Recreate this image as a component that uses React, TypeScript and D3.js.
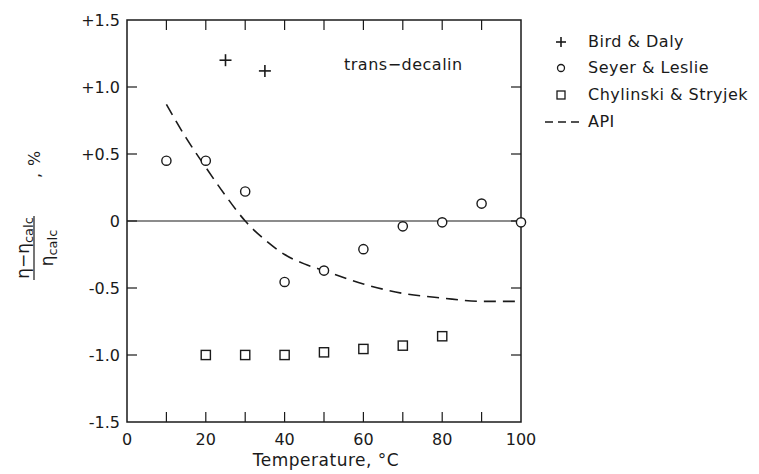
import React from "react";
import * as d3 from "d3";

const birdDalyT = [25, 35];
const birdDalyV = [1.2, 1.12];
const seyerT = [10, 20, 30, 40, 50, 60, 70, 80, 90, 100];
const seyerV = [0.45, 0.45, 0.22, -0.455, -0.37, -0.21, -0.04, -0.01, 0.13, -0.01];
const chylT = [20, 30, 40, 50, 60, 70, 80];
const chylV = [-1.0, -1.0, -1.0, -0.98, -0.955, -0.93, -0.86];
const apiT = [10, 15, 20, 25, 30, 35, 40, 45, 50, 60, 70, 80, 90, 100];
const apiV = [0.87, 0.62, 0.4, 0.19, 0.0, -0.14, -0.25, -0.32, -0.37, -0.47, -0.54, -0.575, -0.6, -0.6];
const xTicks = [0, 20, 40, 60, 80, 100];
const xMinorTicks = [10, 20, 30, 40, 50, 60, 70, 80, 90];
const yTicks = [1.5, 1.0, 0.5, 0, -0.5, -1.0, -1.5];
const yTickLabels = ["+1.5", "+1.0", "+0.5", "0", "-0.5", "-1.0", "-1.5"];
const legendLabels = ["Bird & Daly", "Seyer & Leslie", "Chylinski & Stryjek", "API"];

const FONT = "'DejaVu Sans', sans-serif";
const INK = "#1a1a1a";

export default function App() {
  const x = d3.scaleLinear().domain([0, 100]).range([127, 521]);
  const y = d3.scaleLinear().domain([-1.5, 1.5]).range([422, 20]);
  const line = d3
    .line<number>()
    .x((_, i) => x(apiT[i]))
    .y((d) => y(d))
    .curve(d3.curveMonotoneX);

  const plus = (cx: number, cy: number, s: number, k: string) => (
    <g key={k} stroke={INK} strokeWidth={1.6}>
      <line x1={cx - s} x2={cx + s} y1={cy} y2={cy} />
      <line x1={cx} x2={cx} y1={cy - s} y2={cy + s} />
    </g>
  );

  const legX = 561;
  const legRows = [42, 68, 95, 122];

  return (
    <svg
      width={759}
      height={474}
      style={{ position: "absolute", left: 0, top: 0, background: "#fff" }}
      fontFamily={FONT}
    >
      <rect x={0} y={0} width={759} height={474} fill="#fff" />
      {/* frame */}
      <rect x={x(0)} y={y(1.5)} width={x(100) - x(0)} height={y(-1.5) - y(1.5)} fill="none" stroke={INK} strokeWidth={1.5} />
      {/* zero line */}
      <line x1={x(0)} x2={x(100)} y1={y(0)} y2={y(0)} stroke={INK} strokeWidth={1.1} />
      {/* ticks */}
      {xMinorTicks.map((t) => (
        <g key={"xt" + t} stroke={INK} strokeWidth={1.2}>
          <line x1={x(t)} x2={x(t)} y1={y(-1.5)} y2={y(-1.5) - 10} />
          <line x1={x(t)} x2={x(t)} y1={y(1.5)} y2={y(1.5) + 10} />
        </g>
      ))}
      {yTicks.slice(1, -1).map((t) => (
        <g key={"yt" + t} stroke={INK} strokeWidth={1.2}>
          <line x1={x(0)} x2={x(0) + 10} y1={y(t)} y2={y(t)} />
          <line x1={x(100)} x2={x(100) - 10} y1={y(t)} y2={y(t)} />
        </g>
      ))}
      {/* tick labels */}
      {yTicks.map((t, i) => (
        <text key={"yl" + t} x={120} y={y(t) + 6} textAnchor="end" fontSize={16} fill={INK}>
          {yTickLabels[i]}
        </text>
      ))}
      {xTicks.map((t) => (
        <text key={"xl" + t} x={x(t)} y={445} textAnchor="middle" fontSize={16} fill={INK}>
          {t}
        </text>
      ))}
      <text x={326} y={466} textAnchor="middle" fontSize={17} letterSpacing={0.5} fill={INK}>
        Temperature, °C
      </text>
      {/* y label */}
      <g transform="translate(0,248) rotate(-90)" fill={INK}>
        <text x={0} y={29} textAnchor="middle" fontSize={17}>
          η−η<tspan fontSize={13} dy={4}>calc</tspan>
        </text>
        <line x1={-32} x2={32} y1={34} y2={34} stroke={INK} strokeWidth={1.2} />
        <text x={0} y={53} textAnchor="middle" fontSize={17}>
          η<tspan fontSize={13} dy={4}>calc</tspan>
        </text>
        <text x={70} y={40} fontSize={16}>,</text>
        <text x={82} y={40} fontSize={16}>%</text>
      </g>
      {/* annotation */}
      <text x={344} y={70} fontSize={16} letterSpacing={0.5} fill={INK}>
        trans−decalin
      </text>
      {/* API curve */}
      <path d={line(apiV) || ""} fill="none" stroke={INK} strokeWidth={1.6} strokeDasharray="12,7" />
      {/* Bird & Daly */}
      {birdDalyV.map((v, i) => plus(x(birdDalyT[i]), y(v), 6, "bd" + i))}
      {/* Seyer & Leslie */}
      {seyerV.map((v, i) => (
        <circle key={"sl" + i} cx={x(seyerT[i])} cy={y(v)} r={4.6} fill="#fff" stroke={INK} strokeWidth={1.4} />
      ))}
      {/* Chylinski */}
      {chylV.map((v, i) => (
        <rect key={"ch" + i} x={x(chylT[i]) - 4.6} y={y(v) - 4.6} width={9.2} height={9.2} fill="#fff" stroke={INK} strokeWidth={1.4} />
      ))}
      {/* legend */}
      {plus(legX, legRows[0], 5, "lg0")}
      <circle cx={legX} cy={legRows[1]} r={3.5} fill="#fff" stroke={INK} strokeWidth={1.3} />
      <rect x={legX - 4} y={legRows[2] - 4} width={8} height={8} fill="#fff" stroke={INK} strokeWidth={1.3} />
      <line x1={545} x2={582} y1={legRows[3]} y2={legRows[3]} stroke={INK} strokeWidth={1.5} strokeDasharray="8,5" />
      {legendLabels.map((l, i) => (
        <text key={"lt" + i} x={588} y={legRows[i] + 5} fontSize={16} letterSpacing={0.5} fill={INK}>
          {l}
        </text>
      ))}
    </svg>
  );
}
